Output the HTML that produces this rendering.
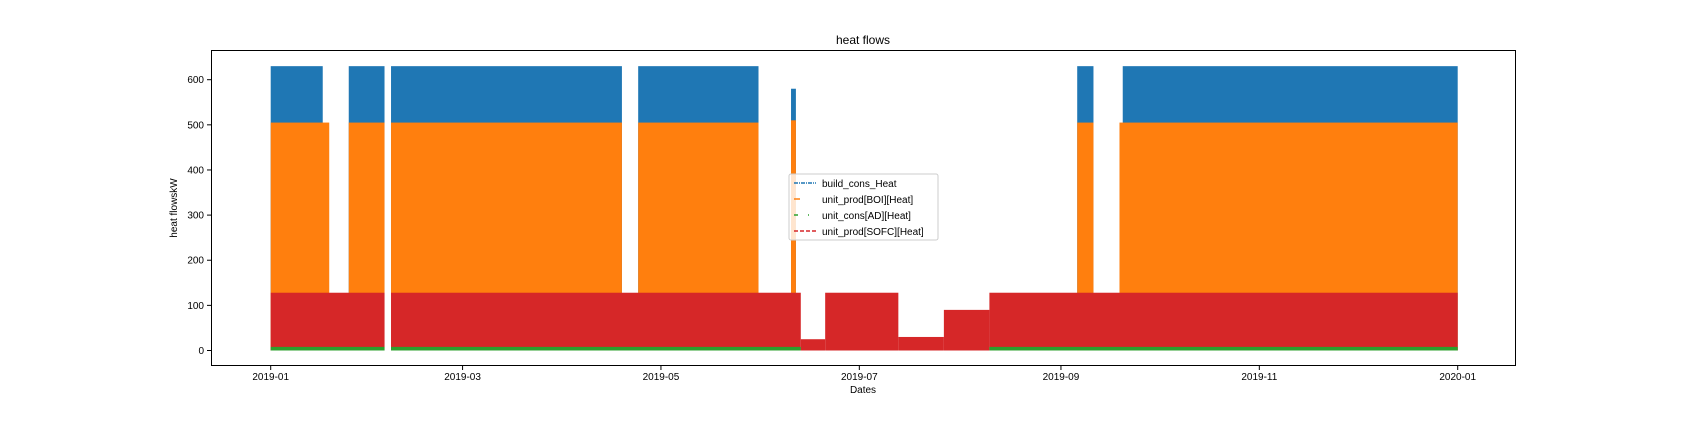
<!DOCTYPE html>
<html><head><meta charset="utf-8"><style>
body{margin:0;background:#fff;}
text{font-family:"Liberation Sans","DejaVu Sans",sans-serif;fill:#000;}
</style></head><body>
<svg id="chart" width="1684" height="417" xmlns="http://www.w3.org/2000/svg">
<rect width="1684" height="417" fill="#fff"/>
<g id="marks"></g>
<rect x="211.5" y="50.5" width="1304" height="315" fill="none" stroke="#000" stroke-width="1"/>
<g id="axes"></g>
<text x="863" y="44" font-size="12" text-anchor="middle">heat flows</text>
<text x="863" y="393" font-size="10" text-anchor="middle">Dates</text>
<text transform="translate(177,208) rotate(-90)" font-size="10" text-anchor="middle">heat flowskW</text>
<g>
<rect x="789" y="174" width="149" height="66" fill="#fff" fill-opacity="0.8" stroke="#ccc" rx="2"/>
<g><line x1="794" y1="183" x2="816" y2="183" stroke="#1f77b4" stroke-width="1.5" stroke-dasharray="4,1,1,1"/><text x="822" y="187" font-size="10">build_cons_Heat</text></g>
<g><line x1="794" y1="199" x2="800" y2="199" stroke="#ff7f0e" stroke-width="1.5"/><text x="822" y="203" font-size="10">unit_prod[BOI][Heat]</text></g>
<g><line x1="794" y1="215" x2="798" y2="215" stroke="#2ca02c" stroke-width="1.5"/><line x1="808" y1="215" x2="809" y2="215" stroke="#2ca02c" stroke-width="1.5"/><text x="822" y="219" font-size="10">unit_cons[AD][Heat]</text></g>
<g><line x1="794" y1="231" x2="816" y2="231" stroke="#d62728" stroke-width="1.5" stroke-dasharray="4,2"/><text x="822" y="235" font-size="10">unit_prod[SOFC][Heat]</text></g>
</g>
</svg>
<script>
// data: runs in days since 2019-01-01 and their peak value (kW)
const blueStart=[0,24,37,113,160,248,262];
const blueEnd=[16,35,108,150,161.5,253,365];
const blueTop=[630,630,630,630,580,630,630];
const orangeStart=[0,24,37,113,160,248,261];
const orangeEnd=[18,35,108,150,161.5,253,365];
const orangeTop=[505,505,505,505,510,505,505];
const redStart=[0,37,163,170.5,193,207,221];
const redEnd=[35,163,170.5,193,207,221,365];
const redTop=[128,128,25,128,30,90,128];
const greenStart=[0,37,221];
const greenEnd=[35,163,365];
const greenTop=[8,8,8];
const yTicks=[0,100,200,300,400,500,600];
const xTickDays=[0,59,120,181,243,304,365];
const xTickLabels=["2019-01","2019-03","2019-05","2019-07","2019-09","2019-11","2020-01"];

const NS="http://www.w3.org/2000/svg";
const x=d=>270.7+d*(1187/365);
const y=v=>350.5-v*(270.8/600);
const marks=document.getElementById('marks');
const axes=document.getElementById('axes');
function runs(starts,ends,tops,color,name){
  for(let i=0;i<starts.length;i++){
    const r=document.createElementNS(NS,'rect');
    r.setAttribute('x',x(starts[i]));
    r.setAttribute('width',Math.max(1,x(ends[i])-x(starts[i])));
    r.setAttribute('y',y(tops[i]));
    r.setAttribute('height',y(0)-y(tops[i]));
    r.setAttribute('fill',color);
    
    
    marks.appendChild(r);
  }
}
runs(blueStart,blueEnd,blueTop,'#1f77b4','build-cons-heat-band');
runs(orangeStart,orangeEnd,orangeTop,'#ff7f0e','unit-prod-boi-band');
runs(redStart,redEnd,redTop,'#d62728','unit-prod-sofc-band');
runs(greenStart,greenEnd,greenTop,'#2ca02c','unit-cons-ad-band');
yTicks.forEach(v=>{
  const l=document.createElementNS(NS,'line');
  l.setAttribute('x1',207);l.setAttribute('x2',211.5);l.setAttribute('y1',y(v));l.setAttribute('y2',y(v));l.setAttribute('stroke','#000');
  
  
  axes.appendChild(l);
  const t=document.createElementNS(NS,'text');
  t.setAttribute('x',204);t.setAttribute('y',y(v)+3.5);t.setAttribute('font-size','10');t.setAttribute('text-anchor','end');
  t.textContent=v;
  
  
  axes.appendChild(t);
});
xTickDays.forEach((d,i)=>{
  const l=document.createElementNS(NS,'line');
  l.setAttribute('x1',x(d));l.setAttribute('x2',x(d));l.setAttribute('y1',366);l.setAttribute('y2',370);l.setAttribute('stroke','#000');
  
  
  axes.appendChild(l);
  const t=document.createElementNS(NS,'text');
  t.setAttribute('x',x(d));t.setAttribute('y',380);t.setAttribute('font-size','10');t.setAttribute('text-anchor','middle');
  t.textContent=xTickLabels[i];
  
  
  axes.appendChild(t);
});
</script>
</body></html>
